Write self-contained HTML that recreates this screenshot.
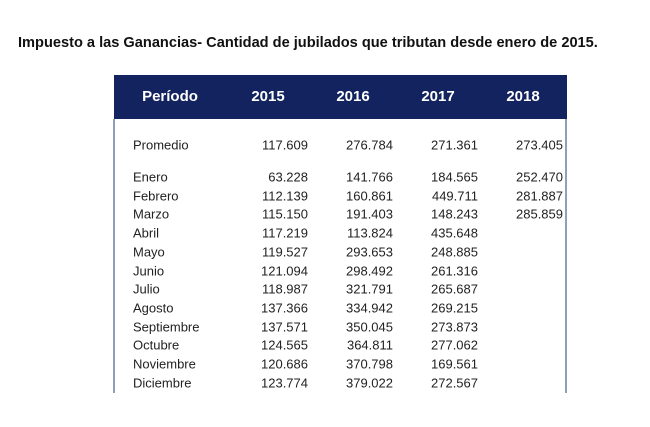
<!DOCTYPE html>
<html><head><meta charset="utf-8"><style>
body{margin:0;width:650px;height:427px;background:#fff;position:relative;overflow:hidden;font-family:"Liberation Sans",sans-serif}
.t{position:absolute;white-space:nowrap}
#title{left:18px;top:35px;font-size:14.6px;font-weight:bold;color:#111}
#hdr{position:absolute;left:114px;top:75px;width:453px;height:44px;background:#13235f}
.h{position:absolute;top:88px;color:#fff;font-weight:bold;font-size:15px;transform:translateX(-50%)}
.bl{position:absolute;top:119px;width:2px;height:274px;background:#8fa0b8}
.c{font-size:13px;color:#222;position:absolute;transform:translateY(-50%)}
.n{transform:translate(-100%,-50%)}
</style></head><body>
<div id="title" class="t">Impuesto a las Ganancias- Cantidad de jubilados que tributan desde enero de 2015.</div>
<div id="hdr"></div>
<div class="h" style="left:170px">Período</div>
<div class="h" style="left:268px">2015</div>
<div class="h" style="left:353px">2016</div>
<div class="h" style="left:438px">2017</div>
<div class="h" style="left:523px">2018</div>
<div class="bl" style="left:113px"></div>
<div class="bl" style="left:565px"></div>
<div id="body"></div>
<script>
const labels=["Promedio","Enero","Febrero","Marzo","Abril","Mayo","Junio","Julio","Agosto","Septiembre","Octubre","Noviembre","Diciembre"];
const v2015=["117.609","63.228","112.139","115.150","117.219","119.527","121.094","118.987","137.366","137.571","124.565","120.686","123.774"];
const v2016=["276.784","141.766","160.861","191.403","113.824","293.653","298.492","321.791","334.942","350.045","364.811","370.798","379.022"];
const v2017=["271.361","184.565","449.711","148.243","435.648","248.885","261.316","265.687","269.215","273.873","277.062","169.561","272.567"];
const v2018=["273.405","252.470","281.887","285.859","","","","","","","","",""];
const b=document.getElementById('body');
const cols=[[v2015,308],[v2016,393],[v2017,478],[v2018,563]];
labels.forEach((l,i)=>{
 const y=i==0?145:177+(i-1)*18.72;
 const d=document.createElement('div');d.className='c';d.style.left='133px';d.style.top=y+'px';d.textContent=l;
 
 
 b.appendChild(d);
 cols.forEach(([arr,x])=>{ if(!arr[i])return;
  const e=document.createElement('div');e.className='c n';e.style.left=x+'px';e.style.top=y+'px';e.textContent=arr[i];
  
  
  b.appendChild(e);});
});
</script>
</body></html>
